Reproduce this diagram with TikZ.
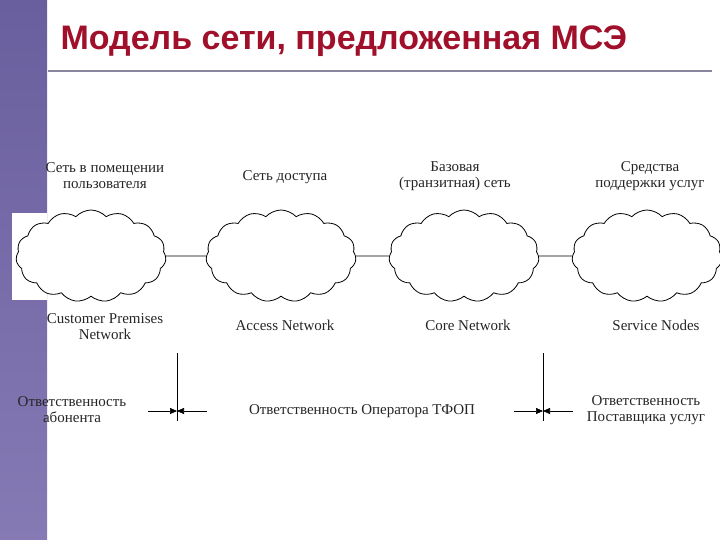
\documentclass[tikz,border=0pt]{standalone}
\usepackage{fontspec}
\setmainfont{Liberation Serif}
\newfontfamily\titlefont{Liberation Sans}
\usetikzlibrary{shapes.symbols,arrows.meta}
\definecolor{titlered}{HTML}{A0102A}
\definecolor{bartop}{HTML}{6A5F9E}
\definecolor{barbot}{HTML}{857AB4}
\definecolor{rulec}{HTML}{8A849E}
\tikzset{
  cl/.style={cloud, cloud puffs=15, cloud puff arc=95, aspect=1.7, draw, thick, minimum width=150pt, minimum height=92pt, fill=white, inner sep=0pt},
  lbl/.style={font=\fontsize{15}{16}\selectfont, align=center, text=black!85},
  tick/.style={line width=0.7pt},
  arr/.style={line width=0.7pt, -{Triangle[length=7pt,width=6pt]}}
}
\begin{document}
\begin{tikzpicture}[x=1pt,y=-1pt]
\useasboundingbox (0,0) rectangle (720,540);
\fill[white] (0,0) rectangle (720,540);
\shade[top color=bartop, bottom color=barbot] (0,0) rectangle (47,540);
\fill[white] (12,213) rectangle (47,300);
\node[anchor=west, font=\titlefont\bfseries\fontsize{34}{36}\selectfont, text=titlered] (title) at (57,41) {Модель сети, предложенная МСЭ};
\draw[rulec, line width=1.3pt] (48,71) -- (712,71);

\node[cl] (c1) at (91,256) {};
\node[cl] (c2) at (281,256) {};
\node[cl] (c3) at (464,256) {};
\node[cl] (c4) at (647,256) {};
\draw[thick] (c1.east) -- (c2.west);
\draw[thick] (c2.east) -- (c3.west);
\draw[thick] (c3.east) -- (c4.west);

\node[lbl] (t1) at (105,176) {Сеть в помещении\\пользователя};
\node[lbl] (t2) at (285,177) {Сеть доступа};
\node[lbl] (t3) at (455,176) {Базовая\\(транзитная) сеть};
\node[lbl] (t4) at (650,176) {Средства\\поддержки услуг};

\node[lbl] (b1) at (105,327) {Customer Premises\\Network};
\node[lbl] (b2) at (285,325) {Access Network};
\node[lbl] (b3) at (468,325) {Core Network};
\node[lbl] (b4) at (656,325) {Service Nodes};

\coordinate (v1t) at (177,353); \coordinate (v1b) at (177,421);
\coordinate (v2t) at (543,353); \coordinate (v2b) at (543,421);
\draw[tick] (v1t) -- (v1b);
\draw[tick] (v2t) -- (v2b);
\coordinate (a1) at (148,411); \coordinate (a1e) at (177,411);
\coordinate (a2) at (207,411); \coordinate (a2e) at (177,411);
\coordinate (a3) at (514,411); \coordinate (a3e) at (543,411);
\coordinate (a4) at (573,411); \coordinate (a4e) at (543,411);
\draw[arr] (a1) -- (a1e);
\draw[arr] (a2) -- (a2e);
\draw[arr] (a3) -- (a3e);
\draw[arr] (a4) -- (a4e);

\node[lbl] (r1) at (72,410) {Ответственность\\абонента};
\node[lbl] (r2) at (362,411) {Ответственность Оператора ТФОП};
\node[lbl] (r3) at (646,410) {Ответственность\\Поставщика услуг};
\end{tikzpicture}
\end{document}
